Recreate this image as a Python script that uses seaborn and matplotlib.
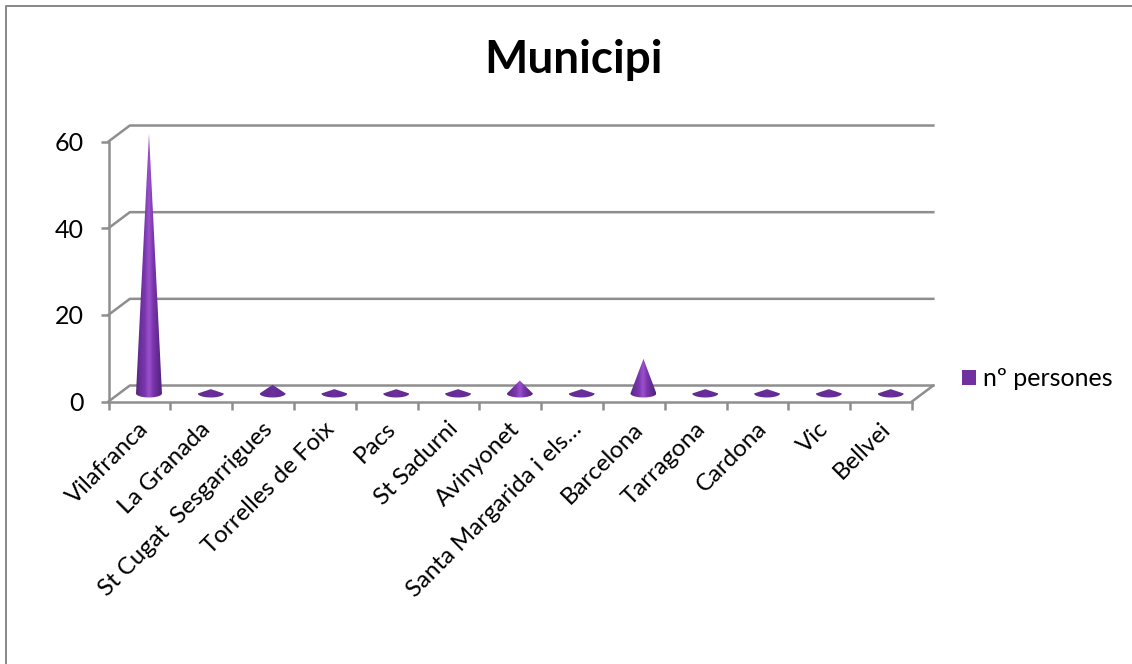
import numpy as np
import pandas as pd
import matplotlib
matplotlib.use("Agg")
import matplotlib.pyplot as plt
from matplotlib.colors import LinearSegmentedColormap, to_rgb
from matplotlib.patches import Polygon, Patch
import seaborn as sns

municipis = ["Vilafranca", "La Granada", "St Cugat  Sesgarrigues", "Torrelles de Foix",
             "Pacs", "St Sadurni", "Avinyonet", "Santa Margarida i els…", "Barcelona",
             "Tarragona", "Cardona", "Vic", "Bellvei"]
persones = [60, 1, 2, 1, 1, 1, 3, 1, 8, 1, 1, 1, 1]
y_ticks = [0, 20, 40, 60]
serie = "nº persones"
titol = "Municipi"

W, H = 1132, 664
GREY = "#8e8e8e"
PURPLE = "#7030A0"
FONT = ["Lato", "DejaVu Sans"]

sns.set_theme(style="white")
plt.rcParams["font.family"] = FONT

fig = plt.figure(figsize=(W / 100, H / 100), dpi=100, facecolor="white")
ax = fig.add_axes([108.5 / W, (H - 401.5) / H, 803.5 / W, 260 / H])

# The bars fix the category scale; each one is then redrawn as a cone.
df = pd.DataFrame({"municipi": municipis, "persones": persones})
sns.barplot(data=df, x="municipi", y="persones", color=PURPLE, width=0.42, ax=ax, zorder=1)
ax.set_xlim(-0.5, 12.5)
ax.set_ylim(0, 60)
ax.set_xlabel("")
ax.set_ylabel("")
for s in ax.spines.values():
    s.set_visible(False)

# Pseudo-3D depth of the floor, in data units
dx, dy = 0.345, 3.69
lw = 1.8
x0, x1 = -0.5, 12.5
line = dict(color=GREY, lw=lw, clip_on=False, solid_capstyle="projecting", zorder=0.5)
for v in y_ticks:
    ax.plot([x0, x0 + dx, x1 + dx], [v, v + dy, v + dy], **line)
ax.plot([x1, x1 + dx], [0, dy], **line)
ax.plot([x0, x1], [0, 0], **line)
ax.plot([x0, x0], [0, 60], **line)

ax.set_yticks(y_ticks)
ax.set_xticks(np.arange(-0.5, 13), minor=True)
ax.tick_params(axis="y", which="major", left=True, length=6, width=lw, color=GREY,
               labelsize=18, labelcolor="black", pad=12)
ax.tick_params(axis="x", which="minor", bottom=True, length=6, width=lw, color=GREY)
ax.tick_params(axis="x", which="major", bottom=False, labelbottom=False)

# Rotated category labels, right-anchored below each slot
for i, name in enumerate(municipis):
    ax.annotate(name, xy=(i, 0), xycoords="data", xytext=(-1, -12), textcoords="offset points",
                rotation=45, rotation_mode="anchor", ha="right", va="top",
                fontsize=17.3, color="black", annotation_clip=False)

# Cones with a cylindrical shading
dark = np.array(to_rgb("#642b94"))
edge_cmap = LinearSegmentedColormap.from_list(
    "cone", ["#55267f", "#6a2f9c", "#7a36ad", "#9a52cc", "#7a36ad", "#642b94", "#502479"])
rx, ry = 0.21, 0.92
off_x, off_y = 0.155, 1.85
for bar, value in zip(list(ax.patches), persones):
    cx = bar.get_x() + bar.get_width() / 2 + off_x
    bar.set_visible(False)
    theta = np.linspace(0, -np.pi, 60)
    px = cx + rx * np.cos(theta)
    py = off_y + ry * np.sin(theta)
    verts = np.column_stack([np.r_[px, cx], np.r_[py, off_y + value]])
    clip = Polygon(verts, closed=True, transform=ax.transData, fc="none", ec="none", clip_on=False)
    ax.add_patch(clip)
    ramp = edge_cmap(np.linspace(0, 1, 128))[None, :, :3]
    mix = min(1.0, value / 3) if value > 2 else 0.12
    ramp = dark * (1 - mix) + ramp * mix
    img = ax.imshow(ramp, extent=(cx - rx, cx + rx, 0, off_y + value + 1), aspect="auto",
                    origin="lower", zorder=2, interpolation="bilinear")
    img.set_clip_path(clip)
    img.set_clip_box(fig.bbox)
ax.set_xlim(-0.5, 12.5)
ax.set_ylim(0, 60)

fig.text(573 / W, 1 - 60 / H, titol, ha="center", va="center", fontsize=33,
         fontweight="bold", color="black")

handle = Patch(facecolor=PURPLE, edgecolor="none", label=serie)
fig.legend(handles=[handle], loc="center left", bbox_to_anchor=(962 / W, 1 - 379 / H),
           frameon=False, fontsize=18, handlelength=0.56, handleheight=0.56,
           handletextpad=0.28, borderpad=0, borderaxespad=0, labelcolor="black")

# Outer chart frame: left and top edges
fig.add_artist(plt.Line2D([5.5 / W, 5.5 / W, 1], [0, 1 - 5.5 / H, 1 - 5.5 / H],
                          color="#8a8a8a", lw=1.44, transform=fig.transFigure))

fig.savefig("out.png", dpi=100, facecolor="white")
